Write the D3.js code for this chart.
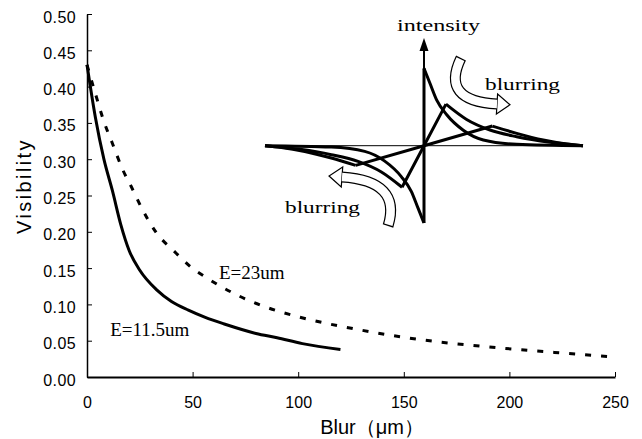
<!DOCTYPE html>
<html>
<head>
<meta charset="utf-8">
<script src="https://cdn.jsdelivr.net/npm/d3@7"></script>
<style>
  body { margin: 0; background: #fff; }
  svg { display: block; }
</style>
</head>
<body>
<svg id="chart" width="642" height="439"></svg>
<script>
// Axis ticks
const yTicks = [0, 0.05, 0.1, 0.15, 0.2, 0.25, 0.3, 0.35, 0.4, 0.45, 0.5];
const xTicks = [0, 50, 100, 150, 200, 250];

// E=11.5um (solid)
const blurE115 = [0, 4, 8, 12, 16, 20, 25, 33, 40, 48, 56, 65, 80, 90, 102, 120];
const visE115 = [0.43, 0.357, 0.3, 0.257, 0.21, 0.174, 0.147, 0.12, 0.104, 0.092, 0.082, 0.073, 0.06, 0.054, 0.046, 0.038];

// E=23um (dashed)
const blurE23 = [0, 4, 8, 12, 17, 21, 26, 33, 41, 49, 57, 71, 84, 100, 129, 159, 188, 225, 248];
const visE23 = [0.43, 0.39, 0.352, 0.322, 0.285, 0.262, 0.232, 0.198, 0.174, 0.152, 0.136, 0.113, 0.097, 0.083, 0.065, 0.051, 0.042, 0.033, 0.028];

// Inset: intensity profiles (positive side, mirrored for the negative side)
const sharpU = [0, 0.038, 0.08, 0.143, 0.247, 0.373, 0.583, 1];
const sharpV = [1, 0.805, 0.59, 0.4, 0.2, 0.074, 0.018, 0];
const midU = [0.138, 0.268, 0.415, 0.583, 0.792, 1];
const midV = [0.538, 0.34, 0.203, 0.116, 0.044, 0];
const wideU = [0.43, 0.583, 0.75, 0.897, 1];
const wideV = [0.254, 0.16, 0.074, 0.022, 0];

const margin = { top: 14, right: 27, bottom: 62, left: 87 };
const width = 642 - margin.left - margin.right;
const height = 439 - margin.top - margin.bottom;

const svg = d3.select('#chart');
const g = svg.append('g').attr('transform', `translate(${margin.left},${margin.top})`);

const x = d3.scaleLinear().domain([0, 250]).range([0, width]);
const y = d3.scaleLinear().domain([0, 0.5]).range([height, 0]);

// Axes, ticks pointing inward
const yAxis = g.append('g')
  .call(d3.axisLeft(y).tickValues(yTicks).tickSize(-5).tickSizeOuter(0).tickFormat(d3.format('.2f')));
yAxis.select('.domain').attr('stroke', '#000').attr('stroke-width', 1.5);
yAxis.selectAll('.tick line').attr('stroke', '#000');
yAxis.selectAll('.tick text')
  .attr('x', -11)
  .attr('dy', '0.5em')
  .style('font', '16px "Liberation Sans", Arial, sans-serif')
  .style('letter-spacing', '0.4px')
  .attr('fill', '#000');

const xAxis = g.append('g')
  .attr('transform', `translate(0,${height})`)
  .call(d3.axisBottom(x).tickValues(xTicks).tickSize(-5).tickSizeOuter(0));
xAxis.select('.domain').attr('stroke', '#000').attr('stroke-width', 2);
xAxis.selectAll('.tick line').attr('stroke', '#000');
xAxis.selectAll('.tick text')
  .attr('y', 20)
  .attr('dy', '0.71em')
  .style('font', '16px "Liberation Sans", Arial, sans-serif')
  .attr('fill', '#000');

// Axis titles
svg.append('text')
  .attr('transform', 'translate(31,186) rotate(-90)')
  .attr('text-anchor', 'middle')
  .style('font', '20px "Liberation Sans", Arial, sans-serif')
  .style('letter-spacing', '2.4px')
  .text('Visibility');

svg.append('text')
  .attr('x', 372)
  .attr('y', 434)
  .attr('text-anchor', 'middle')
  .style('font', '20px "Liberation Sans", Arial, sans-serif')
  .text('Blur（μm）');

// Curves
const line = d3.line().curve(d3.curveMonotoneX).x((d) => x(d[0])).y((d) => y(d[1]));

g.append('path')
  .datum(d3.zip(blurE115, visE115))
  .attr('fill', 'none')
  .attr('stroke', '#000')
  .attr('stroke-width', 3)
  .attr('d', line);

g.append('path')
  .datum(d3.zip(blurE23, visE23))
  .attr('fill', 'none')
  .attr('stroke', '#000')
  .attr('stroke-width', 3)
  .attr('stroke-dasharray', '6,10')
  .attr('d', line);

g.append('text')
  .attr('x', x(11) )
  .attr('y', y(0.057))
  .style('font', '19px "Liberation Serif", "Times New Roman", serif')
  .text('E=11.5um');

g.append('text')
  .attr('x', x(62.5))
  .attr('y', y(0.135))
  .style('font', '19px "Liberation Serif", "Times New Roman", serif')
  .text('E=23um');

// ---- Inset schematic ----
const ix = d3.scaleLinear().domain([-1, 1]).range([265, 583]);
const iy = d3.scaleLinear().domain([-1, 1]).range([223, 68.4]);
const inset = svg.append('g');

// thin horizontal axis
inset.append('line')
  .attr('x1', ix(-1)).attr('x2', ix(1))
  .attr('y1', iy(0)).attr('y2', iy(0))
  .attr('stroke', '#000').attr('stroke-width', 1);

// vertical axis with arrow
inset.append('line')
  .attr('x1', ix(0)).attr('x2', ix(0))
  .attr('y1', iy(-1)).attr('y2', 48)
  .attr('stroke', '#000').attr('stroke-width', 2);
inset.append('path')
  .attr('d', `M${ix(0)},38 L${ix(0) - 4.5},51 L${ix(0) + 4.5},51 Z`)
  .attr('fill', '#000');

inset.append('text')
  .attr('x', 397).attr('y', 31)
  .attr('textLength', 83).attr('lengthAdjust', 'spacingAndGlyphs')
  .style('font', '16px "Liberation Serif", serif')
  .text('intensity');

const iLine = d3.line().x((d) => ix(d[0])).y((d) => iy(d[1]));
const iSmooth = d3.line().curve(d3.curveMonotoneX).x((d) => ix(d[0])).y((d) => iy(d[1]));

function drawPulse(us, vs) {
  const right = d3.zip(us, vs);
  const left = right.map((p) => [-p[0], -p[1]]).reverse();
  const peak = right[0];
  // decaying tails
  [left, right].forEach((pts) => {
    inset.append('path')
      .datum(pts)
      .attr('fill', 'none')
      .attr('stroke', '#000')
      .attr('stroke-width', 3)
      .attr('d', iSmooth);
  });
  // straight flank through the origin
  inset.append('path')
    .datum([[-peak[0], -peak[1]], [0, 0], peak])
    .attr('fill', 'none')
    .attr('stroke', '#000')
    .attr('stroke-width', 3)
    .attr('stroke-linejoin', 'miter')
    .attr('d', iLine);
}
drawPulse(sharpU, sharpV);
drawPulse(midU, midV);
drawPulse(wideU, wideV);

// hollow curved arrows
function hollowArrow(d, tipLen, headHalf) {
  const grp = inset.append('g');
  const outer = grp.append('path').attr('d', d)
    .attr('fill', 'none').attr('stroke', '#000').attr('stroke-width', 11);
  const node = outer.node();
  const len = node.getTotalLength();
  const end = node.getPointAtLength(len);
  const prev = node.getPointAtLength(len - 2);
  const ang = Math.atan2(end.y - prev.y, end.x - prev.x);
  const c = Math.cos(ang);
  const s = Math.sin(ang);
  const pts = [
    [end.x - s * headHalf, end.y + c * headHalf],
    [end.x + c * tipLen, end.y + s * tipLen],
    [end.x + s * headHalf, end.y - c * headHalf],
  ];
  grp.append('path')
    .attr('d', `M${pts.map((p) => p.join(',')).join('L')}Z`)
    .attr('fill', '#fff').attr('stroke', '#000').attr('stroke-width', 1.2);
  grp.append('path').attr('d', d)
    .attr('fill', 'none').attr('stroke', '#fff').attr('stroke-width', 8.6)
    .attr('stroke-dasharray', `${len - 1.2},${len}`)
    .attr('stroke-dashoffset', -1.2);
}
hollowArrow('M461,58 Q440,101 497,104', 13, 10);
hollowArrow('M388,226 Q402,181 342,177', 13, 10);

inset.append('text')
  .attr('x', 485).attr('y', 90)
  .attr('textLength', 75).attr('lengthAdjust', 'spacingAndGlyphs')
  .style('font', '17px "Liberation Serif", serif')
  .text('blurring');

inset.append('text')
  .attr('x', 285).attr('y', 213)
  .attr('textLength', 75).attr('lengthAdjust', 'spacingAndGlyphs')
  .style('font', '17px "Liberation Serif", serif')
  .text('blurring');
</script>
</body>
</html>
